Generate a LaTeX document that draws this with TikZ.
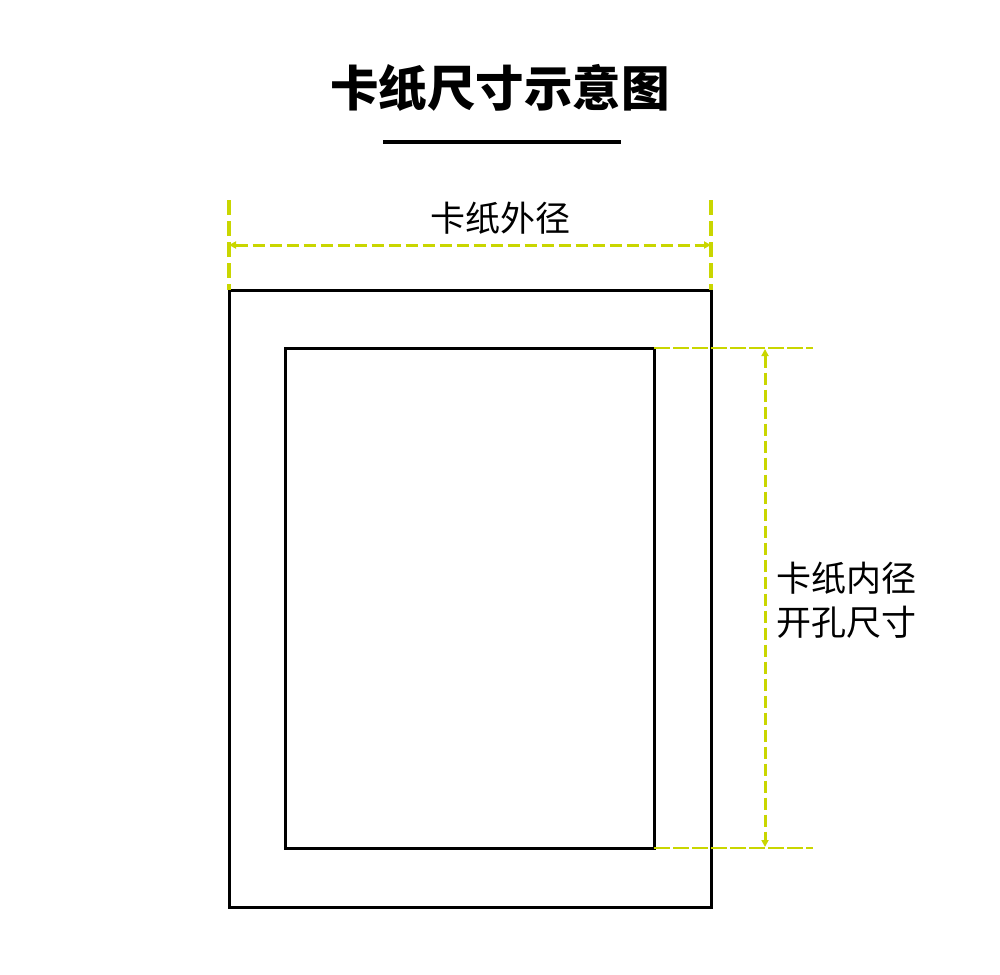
\documentclass[tikz,border=0pt]{standalone}
\usepackage{fontspec}
\usepackage{xcolor}
\usepackage{tikz}
\usetikzlibrary{arrows.meta,positioning}
\newfontfamily\cjk{Noto Sans CJK SC}
\definecolor{dimgreen}{RGB}{201,214,0}

\begin{document}
\begin{tikzpicture}[x=1pt,y=-1pt,
  board/.style={draw=black, line width=3pt},
  extline/.style={draw=dimgreen, line width=3.5pt, dash pattern=on 15pt off 6pt},
  extthin/.style={draw=dimgreen, line width=2pt, dash pattern=on 16pt off 3pt},
  dimline/.style={draw=dimgreen, line width=3pt, dash pattern=on 12pt off 5pt,
    {Triangle[length=7pt,width=7pt]}-{Triangle[length=7pt,width=7pt]}},
  label/.style={font=\cjk\fontsize{35}{44}\selectfont, inner sep=0pt}]
\useasboundingbox (0,0) rectangle (1000,974);

% title
\node[font=\cjk\bfseries\fontsize{48.5}{58}\selectfont, inner sep=0pt] (title) at (500,88) {卡纸尺寸示意图};
\coordinate (ruleL) at (383,142);
\coordinate (ruleR) at (621,142);
\draw[line width=3.5pt] (ruleL) -- (ruleR);

% outer and inner board
\coordinate (outerNW) at (229,290);
\coordinate (outerNE) at (711,290);
\coordinate (outerSE) at (711,907);
\coordinate (innerNW) at (285,348);
\coordinate (innerNE) at (654,348);
\coordinate (innerSE) at (654,848);
\draw[board] (outerNW) rectangle (outerSE);
\draw[board] (innerNW) rectangle (innerSE);

% outer size
\coordinate (extTL) at (229,200);
\coordinate (extTR) at (711,200);
\coordinate (dimL) at (229,245);
\coordinate (dimR) at (711,245);
\draw[extline] (extTL) -- (outerNW);
\draw[extline] (extTR) -- (outerNE);
\draw[dimline] (dimL) -- (dimR);
\node[label] (outerlabel) at (500,218) {卡纸外径};

% inner size
\coordinate (extRT) at (813,348);
\coordinate (extRB) at (813,848);
\coordinate (dimT) at (765,349);
\coordinate (dimB) at (765,847);
\draw[extthin] (innerNE) -- (extRT);
\draw[extthin] (innerSE) -- (extRB);
\draw[dimline] (dimT) -- (dimB);
\node[label, align=left, anchor=west] (innerlabel) at (776,600) {卡纸内径\\开孔尺寸};
\end{tikzpicture}
\end{document}
